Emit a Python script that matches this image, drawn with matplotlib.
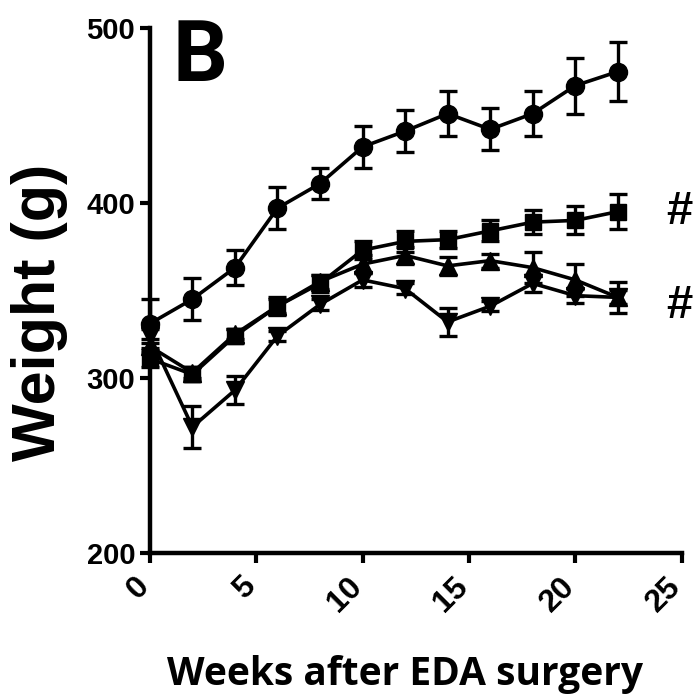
import matplotlib.pyplot as plt
import matplotlib.transforms as mtransforms
import numpy as np

#===============================================================================
weeks = [0, 2, 4, 6, 8, 10, 12, 14, 16, 18, 20, 22]

circle_mean = [331, 345, 363, 397, 411, 432, 441, 451, 442, 451, 467, 475]
circle_err = [14, 12, 10, 12, 9, 12, 12, 13, 12, 13, 16, 17]

square_mean = [311, 302, 324, 341, 354, 373, 378, 379, 384, 389, 390, 395]
square_err = [5, 4, 4, 5, 5, 5, 6, 5, 6, 7, 8, 10]

up_mean = [318, 303, 325, 341, 355, 365, 370, 364, 367, 363, 356, 346]
up_err = [4, 3, 3, 4, 4, 5, 5, 5, 4, 9, 9, 9]

down_mean = [324, 272, 293, 324, 342, 356, 351, 332, 341, 354, 347, 346]
down_err = [4, 12, 8, 3, 3, 4, 3, 8, 3, 5, 4, 4]

significant = [395, 341]

#===============================================================================
plt.rcParams['font.family'] = ['Liberation Sans', 'DejaVu Sans']

fig = plt.figure(figsize=(6.97, 6.96), dpi=100)
ax = fig.add_axes([0.215, 0.2055, 0.763, 0.7545])

style = dict(color="black", lw=2.6, elinewidth=2.4, capsize=6.5, capthick=2.4,
             clip_on=False)

ax.errorbar(weeks, down_mean, yerr=down_err, marker="v", markersize=13, **style)
ax.errorbar(weeks, up_mean, yerr=up_err, marker="^", markersize=13, **style)
ax.errorbar(weeks, square_mean, yerr=square_err, marker="s", markersize=12, **style)
ax.errorbar(weeks, circle_mean, yerr=circle_err, marker="o", markersize=13, **style)

for y in significant:
    ax.text(24.9, y, "#", fontsize=34, fontweight="bold", ha="center", va="center",
            clip_on=False)

ax.set_xlim(0, 25)
ax.set_ylim(200, 500)
ax.set_xticks([0, 5, 10, 15, 20, 25])
ax.set_yticks([200, 300, 400, 500])

for side in ["top", "right"]:
    ax.spines[side].set_visible(False)
for side in ["left", "bottom"]:
    ax.spines[side].set_linewidth(3.2)

ax.tick_params(width=3, length=7, direction="out")
ax.tick_params(axis="x", pad=14)
for label in ax.get_yticklabels():
    label.set_fontsize(21)
    label.set_fontweight("bold")
shift = mtransforms.ScaledTranslation(-0.05, 0, fig.dpi_scale_trans)
for label in ax.get_xticklabels():
    label.set_fontsize(23)
    label.set_fontweight("bold")
    label.set_rotation(45)
    label.set_ha("right")
    label.set_va("center")
    label.set_rotation_mode("anchor")
    label.set_transform(label.get_transform() + shift)

ax.set_ylabel("Weight (g)", fontsize=44, fontweight="bold")
ax.yaxis.set_label_coords(-0.207, 0.459)
ax.yaxis.label.set_va("center")

ax.set_xlabel("Weeks after EDA surgery", fontsize=28, fontweight="bold",
              family="Open Sans")
ax.xaxis.set_label_coords(0.479, -0.232)
ax.xaxis.label.set_va("center")

fig.text(0.287, 0.917, "B", fontsize=62, fontweight="bold", family="Roboto",
         ha="center", va="center")

fig.savefig("out.png", dpi=100)
